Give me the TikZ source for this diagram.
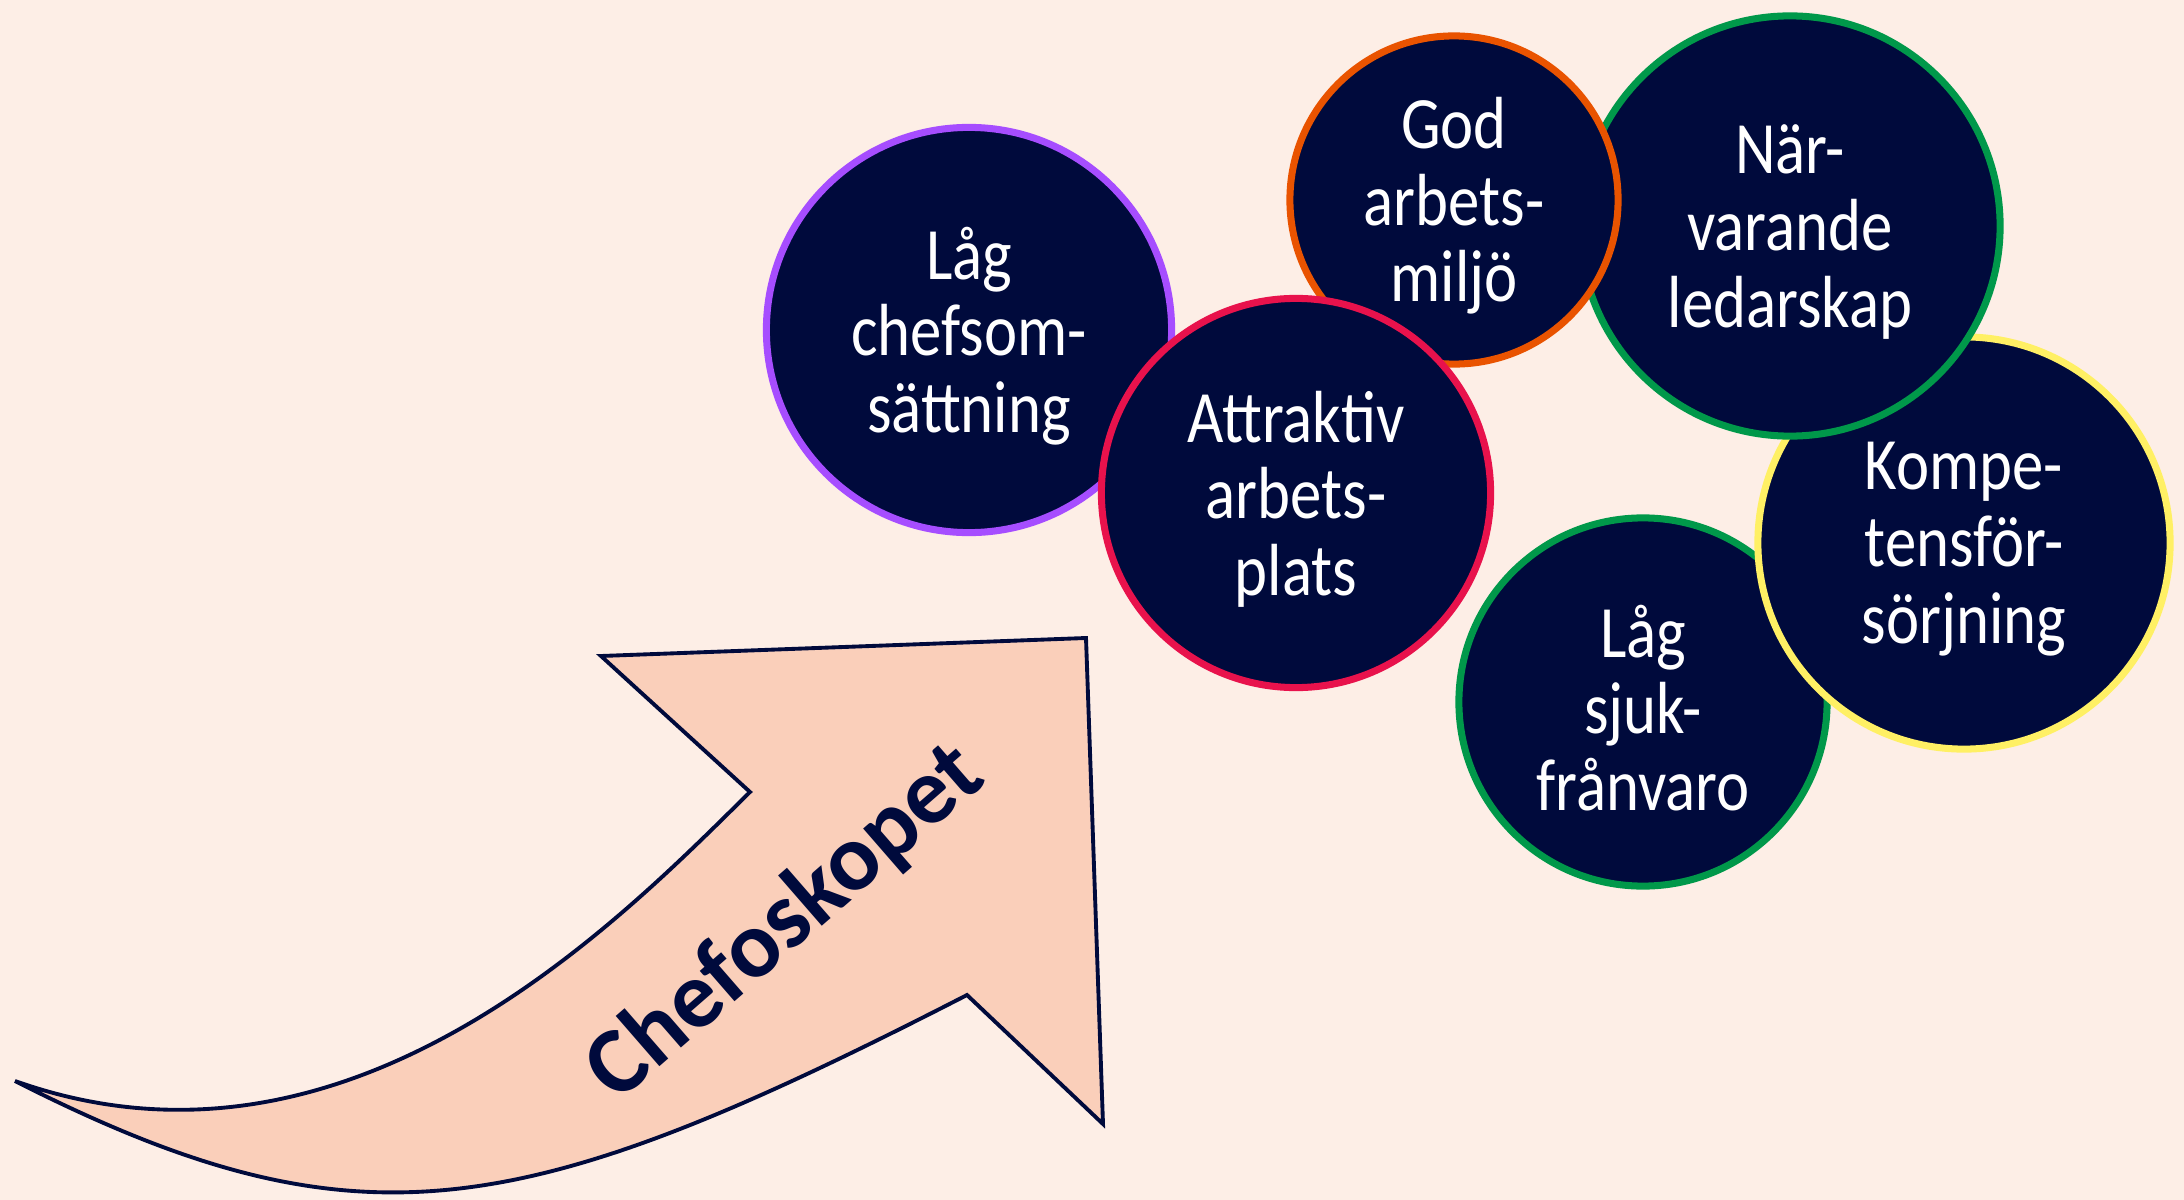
\documentclass[tikz,border=0pt]{standalone}
\usepackage{fontspec}
\newfontfamily\circfont{Carlito}[FakeStretch=0.85]
\newfontfamily\arrowfont{Carlito}
\definecolor{bgcol}{HTML}{FDEEE6}
\definecolor{navy}{HTML}{000A3C}
\definecolor{arrowfill}{HTML}{FACFBA}
\definecolor{cpurple}{HTML}{A64DFF}
\definecolor{cred}{HTML}{E8124C}
\definecolor{corange}{HTML}{E95300}
\definecolor{cgreen}{HTML}{00984A}
\definecolor{cyellow}{HTML}{FFF064}
\tikzset{
  bub/.style={circle, fill=navy, line width=2pt, inner sep=0pt},
  bubtext/.style={text=white, align=center, inner sep=0pt, yshift=-0.06cm,
    font={\circfont\fontsize{21}{21.8}\selectfont}},
  arrowshape/.style={fill=arrowfill, draw=navy, line width=1.1pt, line join=miter},
  arrowlabel/.style={text=navy, font={\arrowfont\bfseries\fontsize{27}{30}\selectfont}}
}
\begin{document}
\begin{tikzpicture}[x=0.01cm, y=-0.01cm]
\useasboundingbox (0,0) rectangle (2184,1200);
\fill[bgcol] (0,0) rectangle (2184,1200);

% arrow
\coordinate (tail) at (15,1081);
\coordinate (notchA) at (750,792);
\coordinate (barbA) at (601,656);
\coordinate (tipA) at (1086,638);
\coordinate (tipB) at (1103,1124);
\coordinate (notchB) at (967,995);
\draw[arrowshape] (tail) .. controls (350,1200) and (620,920) .. (notchA)
  -- (barbA) -- (tipA) -- (tipB) -- (notchB)
  .. controls (523,1223) and (360,1256) .. (tail) -- cycle;
\node[arrowlabel, rotate=41] (chef) at (786,923) {Chefoskopet};

% circles
\node[bub, draw=cpurple, minimum size=4.05cm,
  label={[bubtext]center:{Låg\\chefsom-\\sättning}}] (lagchef) at (969,330) {};
\node[bub, draw=cgreen, minimum size=3.68cm,
  label={[bubtext]center:{Låg\\sjuk-\\frånvaro}}] (lagsjuk) at (1643,702) {};
\node[bub, draw=cyellow, minimum size=4.12cm,
  label={[bubtext]center:{Kompe-\\tensför-\\sörjning}}] (kompetens) at (1964,543) {};
\node[bub, draw=cgreen, minimum size=4.2cm,
  label={[bubtext]center:{När-\\varande\\ledarskap}}] (narvarande) at (1790,226) {};
\node[bub, draw=corange, minimum size=3.28cm,
  label={[bubtext]center:{God\\arbets-\\miljö}}] (god) at (1454,200) {};
\node[bub, draw=cred, minimum size=3.89cm,
  label={[bubtext]center:{Attraktiv\\arbets-\\plats}}] (attraktiv) at (1296,493) {};
\end{tikzpicture}
\end{document}
